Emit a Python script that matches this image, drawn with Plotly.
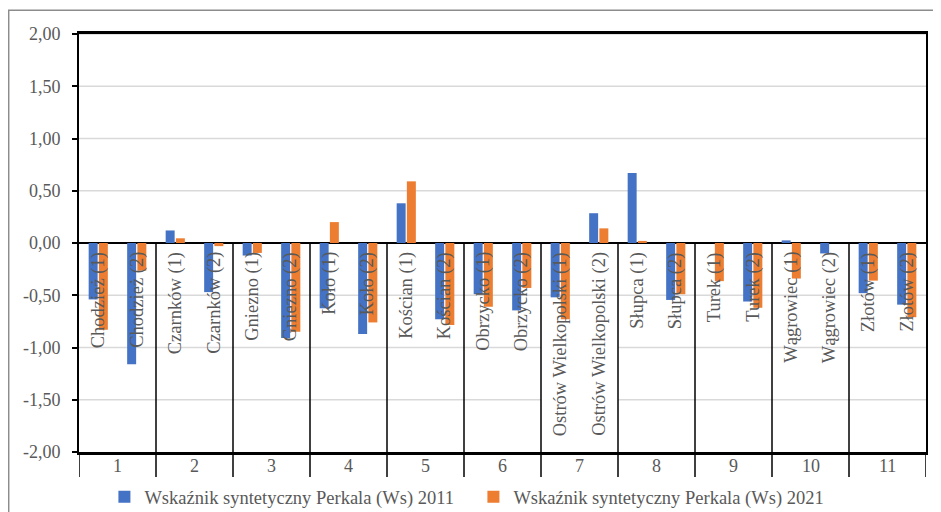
import plotly.graph_objects as go

GROUPS = ["1", "2", "3", "4", "5", "6", "7", "8", "9", "10", "11"]
CATEGORIES = [
    "Chodzież (1)", "Chodzież (2)", "Czarnków (1)", "Czarnków (2)",
    "Gniezno (1)", "Gniezno (2)", "Koło (1)", "Koło (2)",
    "Kościan (1)", "Kościan (2)", "Obrzycko (1)", "Obrzycko (2)",
    "Ostrów Wielkopolski (1)", "Ostrów Wielkopolski (2)",
    "Słupca (1)", "Słupca (2)", "Turek (1)", "Turek (2)",
    "Wągrowiec (1)", "Wągrowiec (2)", "Złotów (1)", "Złotów (2)",
]
WS_2011 = [-0.54, -1.16, 0.12, -0.47, -0.12, -0.91, -0.625, -0.87,
           0.38, -0.73, -0.49, -0.645, -0.52, 0.285, 0.67, -0.545,
           0.0, -0.56, 0.025, -0.10, -0.48, -0.59]
WS_2021 = [-0.83, -0.265, 0.045, -0.03, -0.095, -0.85, 0.20, -0.76,
           0.59, -0.785, -0.61, -0.43, -0.73, 0.14, 0.02, -0.49,
           -0.365, -0.62, -0.34, 0.0, -0.36, -0.71]
SERIES_NAMES = ["Wskaźnik syntetyczny Perkala (Ws) 2011",
                "Wskaźnik syntetyczny Perkala (Ws) 2021"]
Y_TICKS = [-2.0, -1.5, -1.0, -0.5, 0.0, 0.5, 1.0, 1.5, 2.0]
Y_TICK_TEXT = ["-2,00", "-1,50", "-1,00", "-0,50", "0,00", "0,50", "1,00", "1,50", "2,00"]
GRID_VALUES = [-1.5, -1.0, -0.5, 0.5, 1.0, 1.5, 2.0]
GAP_GROUP = "7"          # group without low gridlines in the reference
GAP_GRID = [-1.5, -1.0]

FONT = "Liberation Serif"
TXT = "#595959"
BLUE = "#4472C4"
ORANGE = "#ED7D31"

fig = go.Figure()
fig.add_trace(go.Bar(x=CATEGORIES, y=WS_2011, name=SERIES_NAMES[0],
                     marker=dict(color=BLUE, line=dict(width=0))))
fig.add_trace(go.Bar(x=CATEGORIES, y=WS_2021, name=SERIES_NAMES[1],
                     marker=dict(color=ORANGE, line=dict(width=0))))

shapes = []
n = len(CATEGORIES)
per = n // len(GROUPS)
# manual gridlines
for g in GRID_VALUES:
    for gi, grp in enumerate(GROUPS):
        if grp == GAP_GROUP and g in GAP_GRID:
            continue
        shapes.append(dict(type="line", xref="x", yref="y", layer="below",
                           x0=gi * per - 0.5, x1=gi * per + per - 0.5, y0=g, y1=g,
                           line=dict(color="#d9d9d9", width=1.5)))
# group separators
for gi in range(len(GROUPS) + 1):
    xs = gi * per - 0.5
    if 0 < gi < len(GROUPS):
        shapes.append(dict(type="line", xref="x", yref="y", x0=xs, x1=xs,
                           y0=0, y1=Y_TICKS[0], line=dict(color="black", width=1.5)))
    shapes.append(dict(type="line", xref="x", yref="paper", x0=xs, x1=xs,
                       y0=0, y1=-0.06, line=dict(color="black", width=1.5)))
# outer chart border
shapes.append(dict(type="rect", xref="paper", yref="paper",
                   x0=-0.083, x1=1.2, y0=-0.3, y1=1.057,
                   line=dict(color="#8c8c8c", width=1.5), layer="below"))

annotations = []
for c in CATEGORIES:
    annotations.append(dict(x=c, y=0, xref="x", yref="y", text=c,
                            textangle=-90, showarrow=False,
                            xanchor="center", yanchor="top", yshift=-7,
                            font=dict(family=FONT, size=18.5, color=TXT)))
for gi, grp in enumerate(GROUPS):
    annotations.append(dict(x=gi * per + (per - 1) / 2, y=0, xref="x", yref="paper",
                            text=grp, showarrow=False, xanchor="center",
                            yanchor="middle", yshift=-14,
                            font=dict(family=FONT, size=18, color=TXT)))

# page body adds an 8px offset, so the figure is 8px smaller than the window
fig.update_layout(
    template="none",
    width=933, height=504,
    margin=dict(l=71, r=15, t=26, b=60, pad=0, autoexpand=False),
    paper_bgcolor="white", plot_bgcolor="white",
    separators=", ",
    barmode="group", bargap=0.47, bargroupgap=0.12,
    font=dict(family=FONT, size=18, color=TXT),
    showlegend=True,
    legend=dict(orientation="h", x=0.03, xanchor="left", y=-0.108,
                yanchor="middle", font=dict(family=FONT, size=18.5, color=TXT),
                bgcolor="rgba(0,0,0,0)", itemwidth=30,
                entrywidth=324, entrywidthmode="pixels"),
    shapes=shapes,
    annotations=annotations,
)
fig.update_xaxes(type="category", range=[-0.5, n - 0.5], showticklabels=False,
                 showgrid=False, zeroline=False, ticks="", automargin=False,
                 showline=True, linecolor="black", linewidth=2.5, mirror=True)
fig.update_yaxes(range=[Y_TICKS[0], Y_TICKS[-1]], tickvals=Y_TICKS, ticktext=Y_TICK_TEXT,
                 showgrid=False, zeroline=True, zerolinecolor="black", zerolinewidth=2,
                 showline=True, linecolor="black", linewidth=2, mirror=True,
                 ticks="outside", ticklen=5, tickcolor="black", tickwidth=1.5,
                 ticklabelstandoff=8, automargin=False,
                 tickfont=dict(family=FONT, size=18, color=TXT))

fig.write_html("out.html")
